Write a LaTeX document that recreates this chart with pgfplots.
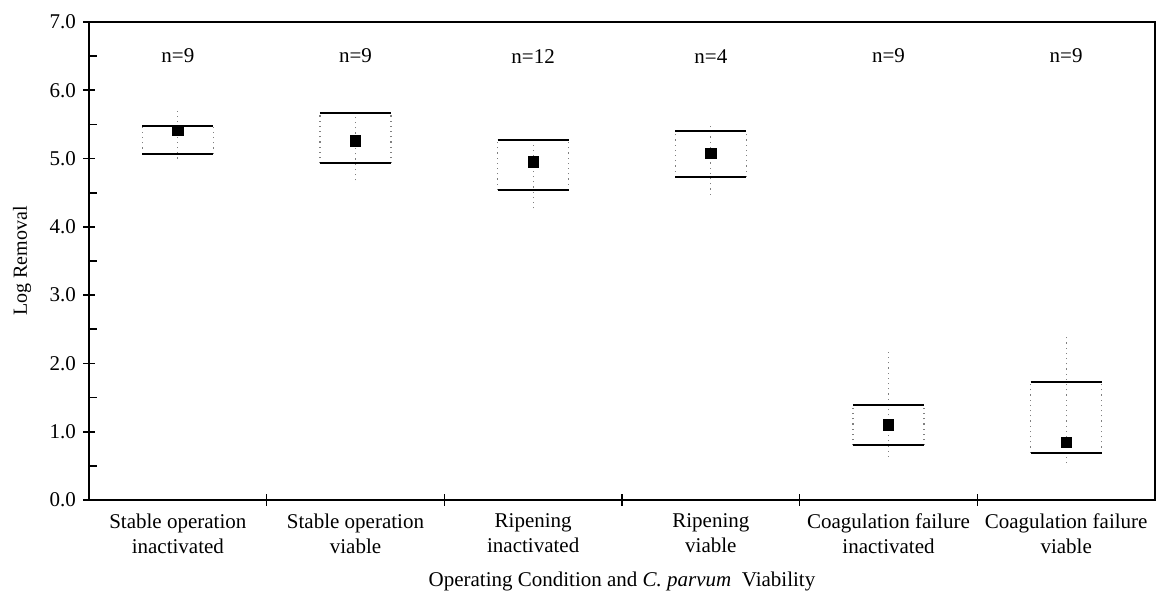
\documentclass[border=0pt]{standalone}
\usepackage{fontspec}
\setmainfont{Liberation Serif}
\usepackage{pgfplots}
\pgfplotsset{compat=1.18}
\begin{document}
\begin{tikzpicture}
\useasboundingbox (-44.5pt,-51.5pt) rectangle (533.5pt,250pt);
\begin{axis}[
  scale only axis, width=533pt, height=239pt,
  xmin=0.5, xmax=6.5, ymin=0, ymax=7,
  axis line style={line width=1pt},
  font=\fontsize{10.5}{12}\selectfont,
  /pgf/number format/assume math mode=true,
  ytick={0,1,...,7}, minor ytick={0.5,1.5,...,6.5},
  yticklabel style={/pgf/number format/fixed, /pgf/number format/fixed zerofill, /pgf/number format/precision=1},
  ytick pos=left, xtick pos=bottom,
  major tick length=6pt, minor tick length=4pt,
  tick align=center,
  tick style={black, line width=0.8pt},
  minor tick style={xshift=2pt},
  xtick={1.5,2.5,3.5,4.5,5.5}, xticklabels={},
  extra x ticks={1,2,3,4,5,6},
  extra x tick labels={{Stable operation\\inactivated},{Stable operation\\viable},{Ripening\\inactivated},{Ripening\\viable},{Coagulation failure\\inactivated},{Coagulation failure\\viable}},
  extra x tick style={major tick length=0pt, tick style={draw=none}},
  xticklabel style={align=center, yshift=-3.5pt, font=\fontsize{10.5}{12.5}\selectfont},
  xlabel={Operating Condition and \textit{C. parvum}\ \ Viability},
  xlabel style={at={(axis description cs:0.5,-0.1715)}, anchor=center},
  ylabel={Log Removal},
  ylabel style={at={(axis description cs:-0.0627,0.5)}, anchor=center, font=\fontsize{10}{12}\selectfont},
  clip=false,
]
% box sides and whiskers (dotted)
\addplot[gray, dotted, line width=0.6pt, unbounded coords=jump] table[row sep=\\]{
x y\\
1 5.00\\ 1 5.74\\ 1 nan\\ 0.8 5.07\\ 0.8 5.48\\ 1 nan\\ 1.2 5.07\\ 1.2 5.48\\ 1 nan\\
2 4.68\\ 2 5.74\\ 2 nan\\ 1.8 4.93\\ 1.8 5.67\\ 2 nan\\ 2.2 4.93\\ 2.2 5.67\\ 2 nan\\
3 4.27\\ 3 5.28\\ 3 nan\\ 2.8 4.54\\ 2.8 5.27\\ 3 nan\\ 3.2 4.54\\ 3.2 5.27\\ 3 nan\\
4 4.47\\ 4 5.52\\ 4 nan\\ 3.8 4.73\\ 3.8 5.40\\ 4 nan\\ 4.2 4.73\\ 4.2 5.40\\ 4 nan\\
5 0.63\\ 5 2.17\\ 5 nan\\ 4.8 0.80\\ 4.8 1.39\\ 5 nan\\ 5.2 0.80\\ 5.2 1.39\\ 5 nan\\
6 0.54\\ 6 2.42\\ 6 nan\\ 5.8 0.69\\ 5.8 1.73\\ 6 nan\\ 6.2 0.69\\ 6.2 1.73\\
};
% box top and bottom lines
\addplot[black, line width=0.9pt, unbounded coords=jump] table[row sep=\\]{
x y\\
0.8 5.48\\ 1.2 5.48\\ 1 nan\\ 0.8 5.07\\ 1.2 5.07\\ 1 nan\\
1.8 5.67\\ 2.2 5.67\\ 2 nan\\ 1.8 4.93\\ 2.2 4.93\\ 2 nan\\
2.8 5.27\\ 3.2 5.27\\ 3 nan\\ 2.8 4.54\\ 3.2 4.54\\ 3 nan\\
3.8 5.40\\ 4.2 5.40\\ 4 nan\\ 3.8 4.73\\ 4.2 4.73\\ 4 nan\\
4.8 1.39\\ 5.2 1.39\\ 5 nan\\ 4.8 0.80\\ 5.2 0.80\\ 5 nan\\
5.8 1.73\\ 6.2 1.73\\ 6 nan\\ 5.8 0.69\\ 6.2 0.69\\
};
% means
\addplot[only marks, mark=square*, mark size=2.6pt, black] coordinates {
(1,5.41) (2,5.26) (3,4.95) (4,5.08) (5,1.10) (6,0.84)
};
\node at (axis cs:1,6.5) {n=9};
\node at (axis cs:2,6.5) {n=9};
\node at (axis cs:3,6.5) {n=12};
\node at (axis cs:4,6.5) {n=4};
\node at (axis cs:5,6.5) {n=9};
\node at (axis cs:6,6.5) {n=9};
\end{axis}
\end{tikzpicture}
\end{document}
